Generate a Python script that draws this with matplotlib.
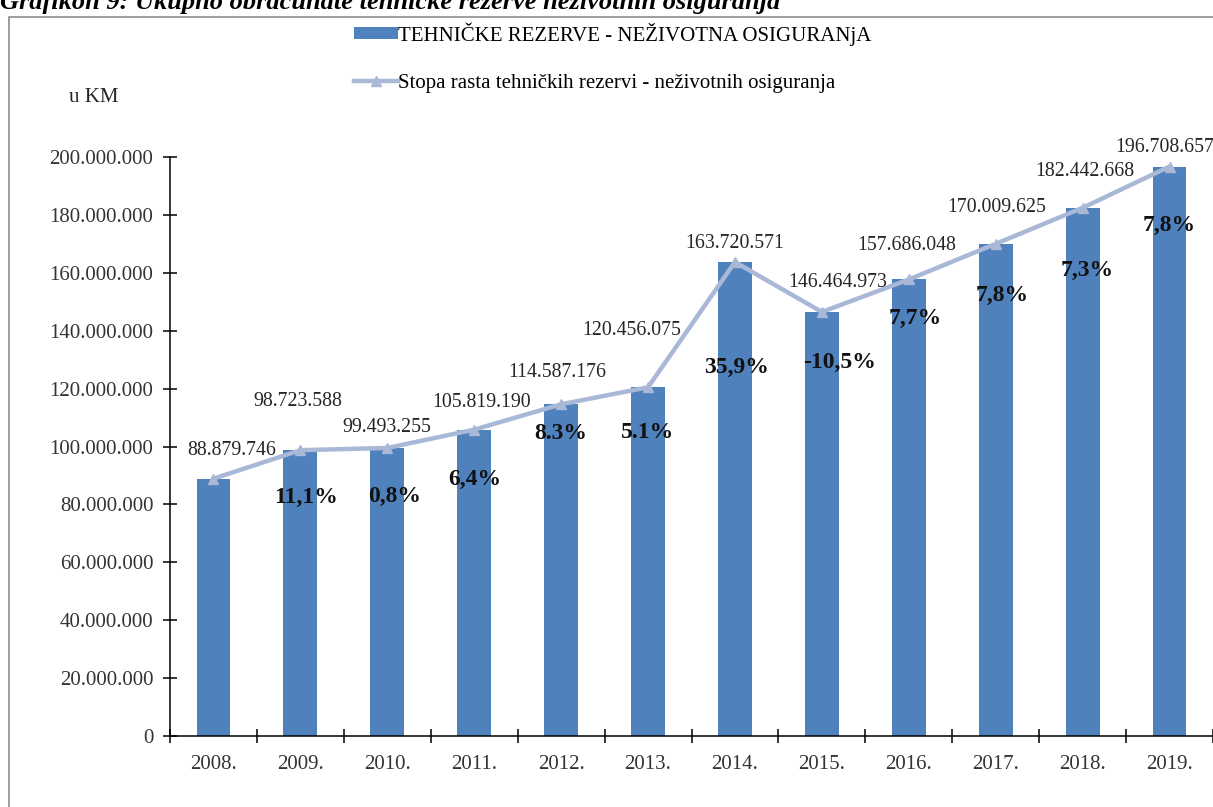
import numpy as np
import matplotlib.pyplot as plt
from matplotlib.patches import Rectangle
from matplotlib.ticker import FuncFormatter, FixedLocator

plt.rcParams['font.family'] = ['Liberation Serif', 'DejaVu Serif']

years = ['2008.', '2009.', '2010.', '2011.', '2012.', '2013.',
         '2014.', '2015.', '2016.', '2017.', '2018.', '2019.']
reserves = [88879746, 98723588, 99493255, 105819190, 114587176, 120456075,
            163720571, 146464973, 157686048, 170009625, 182442668, 196708657]
growth = ['', '11,1%', '0,8%', '6,4%', '8.3%', '5.1%',
          '35,9%', '-10,5%', '7,7%', '7,8%', '7,3%', '7,8%']

# label placement (pixels for value labels, data units for the % labels)
val_dx = [18, -3, 0, 7, -4, -16, 0, 16, -2, 1, 2, -5]
val_dy = [28, 49, 20, 27, 32, 57, 19, 29, 34, 36, 36, 19]
pct_y = [0, 82.4, 82.8, 88.6, 104.5, 104.8, 127.2, 129.0, 144.1, 152.1, 160.7, 176.2]
pct_dx = [0, 0.07, 0.09, 0.01, 0, 0, 0.02, 0.2, 0.07, 0.08, 0.05, 0]

BAR = '#4f81bd'
LINE = '#a9b8d6'
TXT = '#262626'

fig = plt.figure(figsize=(12.13, 8.07), dpi=100)
ax = fig.add_axes([170 / 1213, 1 - 736 / 807, 1 - 170 / 1213, (736 - 157) / 807])

x = np.arange(len(years))
bars = ax.bar(x, reserves, width=0.39, color=BAR, zorder=2,
              label='TEHNIČKE REZERVE - NEŽIVOTNA OSIGURANjA')
ln, = ax.plot(x, reserves, color=LINE, lw=3.2, marker='^', ms=7.5, zorder=3,
              label='Stopa rasta tehničkih rezervi - neživotnih osiguranja')

for i, v in enumerate(reserves):
    ax.annotate(f'{v:,}'.replace(',', '.'), (x[i], v),
                xytext=(val_dx[i], val_dy[i]), textcoords='offset pixels',
                ha='center', va='center', fontsize=14.3, color=TXT,
                annotation_clip=False, zorder=5)
    if growth[i]:
        ax.text(x[i] + pct_dx[i], pct_y[i] * 1e6, growth[i], ha='center',
                va='center', fontsize=17, fontweight='bold', color='#111111',
                zorder=5)

ax.set_xlim(-0.5, 11.5)
ax.set_ylim(0, 200e6)
ax.set_yticks(np.arange(0, 200e6 + 1, 20e6))
ax.yaxis.set_major_formatter(FuncFormatter(lambda v, p: f'{v:,.0f}'.replace(',', '.')))
ax.set_xticks(x)
ax.set_xticklabels(years)
ax.xaxis.set_minor_locator(FixedLocator(np.arange(-0.5, 12, 1)))
ax.tick_params(axis='x', which='major', length=0, pad=14, labelsize=15, labelcolor='#333333')
ax.tick_params(axis='x', which='minor', direction='inout', length=10, width=1.1)
ax.tick_params(axis='y', direction='inout', length=10, width=1.1, pad=7,
               labelsize=15, labelcolor='#333333')
for s in ['top', 'right']:
    ax.spines[s].set_visible(False)
for s in ['left', 'bottom']:
    ax.spines[s].set_linewidth(1.1)

fig.legend(handles=[bars, ln], loc='upper left', bbox_to_anchor=(354 / 1213, 1 - 22 / 807),
           frameon=False, fontsize=15, handlelength=2.1, handleheight=0.5,
           handletextpad=0.0, labelspacing=1.35, borderpad=0, borderaxespad=0)

fig.text(94 / 1213, 1 - 97 / 807, 'u KM', ha='center', va='center', fontsize=15, color=TXT)
fig.text(0, 1 - 9 / 807, 'Grafikon 9: Ukupno obračunate tehničke rezerve neživotnih osiguranja',
         ha='left', va='baseline', fontsize=19, fontweight='bold', fontstyle='italic')

fig.patches.append(Rectangle((9 / 1213, -0.1), 1.2, 1.1 - 17 / 807, transform=fig.transFigure,
                             fill=False, edgecolor='#8c8c8c', lw=1.2))

fig.savefig('out.png', dpi=100)
